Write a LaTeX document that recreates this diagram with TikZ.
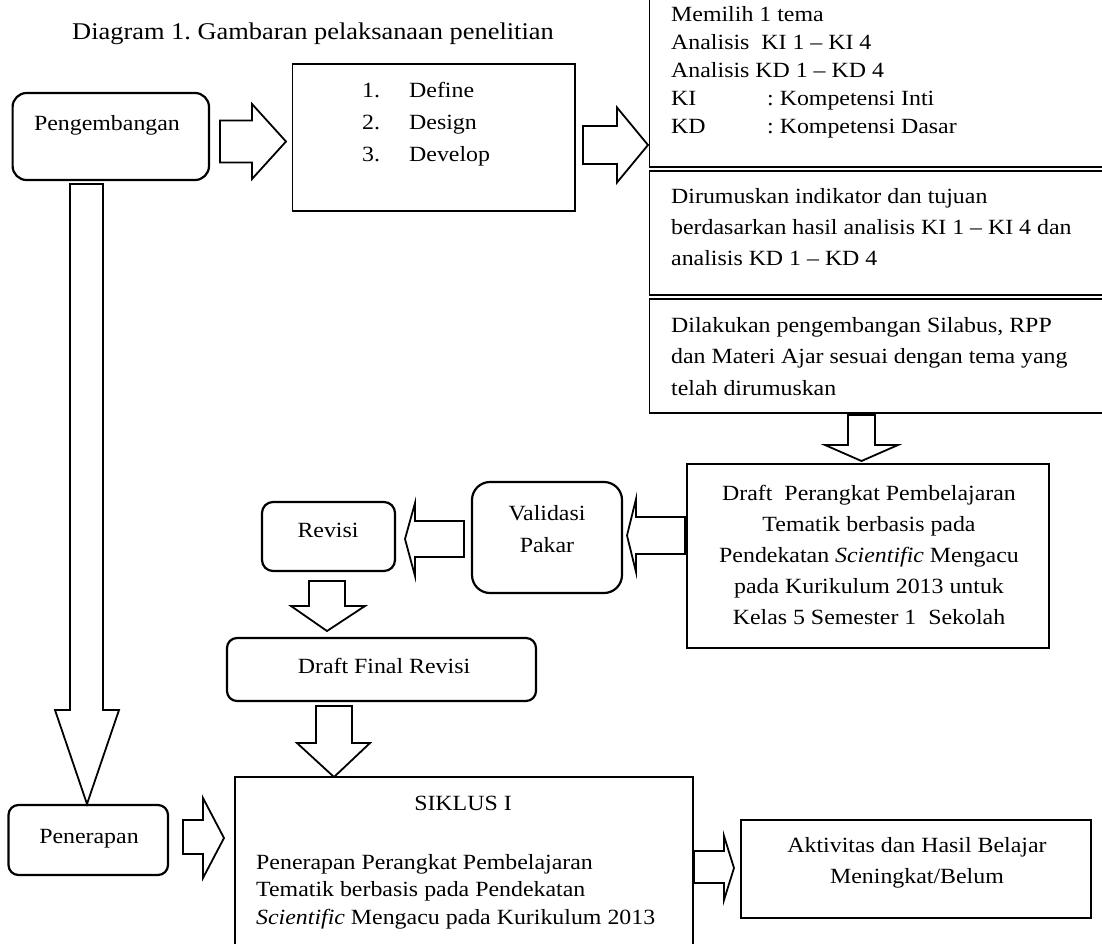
\documentclass[tikz,border=0pt]{standalone}
\usepackage{fontspec}
\setmainfont{Liberation Serif}[FakeStretch=1.1]
\usetikzlibrary{calc}
\frenchspacing
\begin{document}
\begin{tikzpicture}[x=1pt,y=-1pt,
  box/.style={draw, line width=1.6pt, inner sep=0pt},
  tbox/.style={draw, line width=1.4pt, inner sep=0pt},
  rbox/.style={draw, line width=2.2pt, rounded corners=#1, inner sep=0pt},
  blk/.style={draw, line width=1.8pt, fill=white, line join=miter},
  txt/.style={inner sep=0pt, font=\fontsize{21.7}{28}\selectfont},
]
\useasboundingbox (0,0) rectangle (1102,943);

% block arrows
\draw[blk] (220,120.5)--(252,120.5)--(252,104)--(286,141.5)--(252,179)--(252,162.5)--(220,162.5)--cycle;
\draw[blk] (583,126)--(617,126)--(617,107.5)--(648,145)--(617,182.5)--(617,164)--(583,164)--cycle;
\draw[blk] (848,415)--(875,415)--(875,445)--(898,445)--(861.5,461)--(825,445)--(848,445)--cycle;
\draw[blk] (685,517)--(636,517)--(636,499)--(627,535.5)--(636,572)--(636,554)--(685,554)--cycle;
\draw[blk] (464,521)--(415,521)--(415,503)--(405,539)--(415,576)--(415,557)--(464,557)--cycle;
\draw[blk] (309,581)--(345,581)--(345,606)--(365,606)--(327,631)--(291,606)--(309,606)--cycle;
\draw[blk] (316,706)--(352,706)--(352,743)--(370,743)--(334,777)--(297,743)--(316,743)--cycle;
\draw[blk] (70,184)--(103,184)--(103,710)--(119,710)--(87,804)--(55,710)--(70,710)--cycle;
\draw[blk] (183,820)--(203,820)--(203,798)--(224,838)--(203,878)--(203,854)--(183,854)--cycle;
\draw[blk] (694,851)--(724,851)--(724,836)--(734,868)--(724,900)--(724,883)--(694,883)--cycle;

% boxes
\node[rbox=14pt, minimum width=196.4pt, minimum height=87pt] (peng) at (110.8,136.5) {};
\node[box, minimum width=282.5pt, minimum height=147pt] (define) at (433.75,137.5) {};
\node[tbox, minimum width=460.5pt, minimum height=177pt] (b1) at (879.75,78.5) {};
\node[tbox, minimum width=460.5pt, minimum height=124pt] (b2) at (879.75,233) {};
\node[tbox, minimum width=460.5pt, minimum height=114pt] (b3) at (879.75,356) {};
\node[box, minimum width=362pt, minimum height=184pt] (draft) at (868,556) {};
\node[rbox=18pt, minimum width=150pt, minimum height=111pt] (valid) at (547,537.5) {};
\node[rbox=11pt, minimum width=133pt, minimum height=69pt] (revisi) at (328.5,536.5) {};
\node[rbox=10pt, minimum width=309pt, minimum height=63pt] (final) at (381.5,669.5) {};
\node[box, minimum width=458pt, minimum height=183pt] (siklus) at (464,868.5) {};
\node[rbox=10pt, minimum width=159.5pt, minimum height=70pt] (pener) at (88.25,840) {};
\node[box, minimum width=350pt, minimum height=98pt] (aktiv) at (916,869) {};

% texts
\node[txt, font=\fontsize{24}{28}\selectfont, anchor=base west] (title) at (72,39) {Diagram 1. Gambaran pelaksanaan penelitian};
\node[txt, anchor=base] (pengtxt) at (107,130) {Pengembangan};
\node[txt, font=\fontsize{21.7}{32}\selectfont, anchor=north west, align=left] (deftxt) at (362,82)
  {\makebox[47pt][l]{1.}Define\\ \makebox[47pt][l]{2.}Design\\ \makebox[47pt][l]{3.}Develop};
\node[txt, anchor=north west, align=left] (b1txt) at (671,6)
  {Memilih 1 tema\\ Analisis\ \ KI 1 -- KI 4\\ Analisis KD 1 -- KD 4\\
   \makebox[96pt][l]{KI}: Kompetensi Inti\\ \makebox[96pt][l]{KD}: Kompetensi Dasar};
\node[txt, font=\fontsize{21.7}{31}\selectfont, anchor=north west, align=left] (b2txt) at (671,188)
  {Dirumuskan indikator dan tujuan\\ berdasarkan hasil analisis KI 1 -- KI 4 dan\\ analisis KD 1 -- KD 4};
\node[txt, font=\fontsize{21.7}{31.5}\selectfont, anchor=north west, align=left] (b3txt) at (671,317)
  {Dilakukan pengembangan Silabus, RPP\\ dan Materi Ajar sesuai dengan tema yang\\ telah dirumuskan};
\node[txt, font=\fontsize{21.7}{31}\selectfont, anchor=north, align=center] (drafttxt) at (869,485)
  {Draft\ \ Perangkat Pembelajaran\\ Tematik berbasis pada\\ Pendekatan \textit{Scientific} Mengacu\\
   pada Kurikulum 2013 untuk\\ Kelas 5 Semester 1\ \ Sekolah};
\node[txt, font=\fontsize{21.7}{32}\selectfont, anchor=north, align=center] (validtxt) at (547,505)
  {Validasi\\ Pakar};
\node[txt, anchor=base] (revisitxt) at (328,537) {Revisi};
\node[txt, anchor=base] (finaltxt) at (384,673) {Draft Final Revisi};
\node[txt, anchor=base] (sikluslbl) at (463,810) {SIKLUS I};
\node[txt, font=\fontsize{21.7}{27.5}\selectfont, anchor=north west, align=left] (siklustxt) at (256,854)
  {Penerapan Perangkat Pembelajaran\\ Tematik berbasis pada Pendekatan\\ \textit{Scientific} Mengacu pada Kurikulum 2013};
\node[txt, anchor=base] (penertxt) at (89,843) {Penerapan};
\node[txt, font=\fontsize{21.7}{31}\selectfont, anchor=north, align=center] (aktivtxt) at (917,837)
  {Aktivitas dan Hasil Belajar\\ Meningkat/Belum};
\end{tikzpicture}
\end{document}
